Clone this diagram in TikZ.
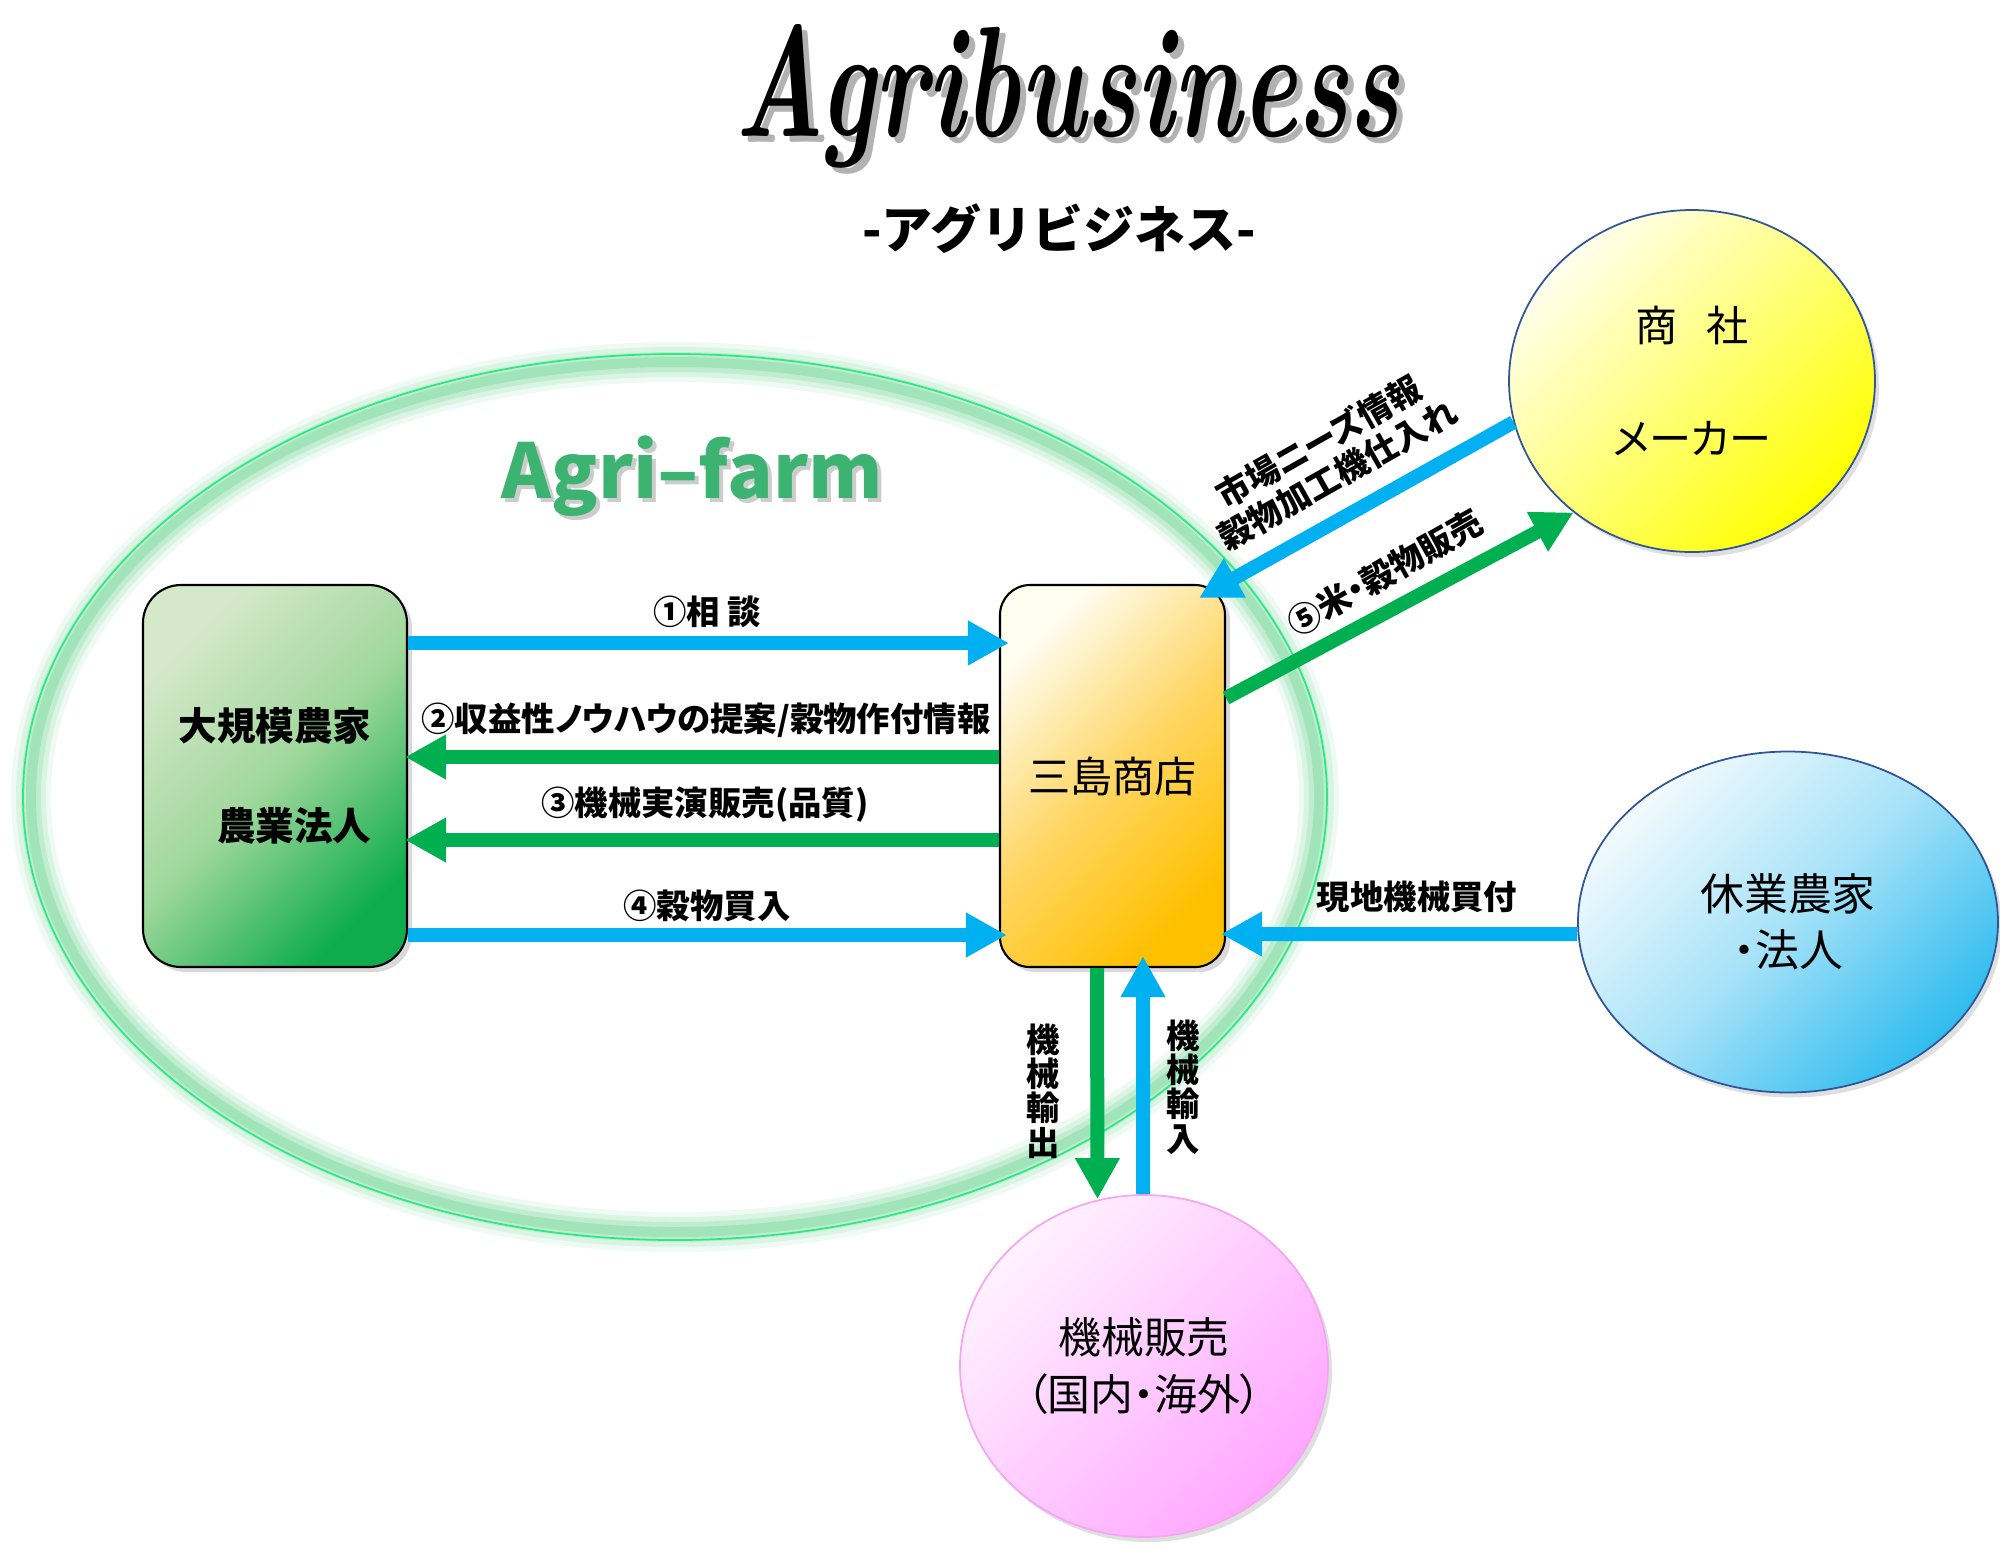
\documentclass[tikz,border=0pt]{standalone}
\usepackage{fontspec}
\usepackage{tikz}
\usetikzlibrary{arrows.meta,shapes,shadows,positioning,calc}
\newfontfamily\jp[RawFeature=+palt]{Noto Sans CJK JP}
\newfontfamily\jpwide{Noto Sans CJK JP}
\definecolor{arrblue}{HTML}{00B0F0}
\definecolor{arrgreen}{HTML}{00B050}
\definecolor{farmtext}{HTML}{3CB371}
\definecolor{farmglow}{HTML}{5CCF86}
\definecolor{rimgreen}{HTML}{2EE884}
\definecolor{rim}{HTML}{2F5597}
\tikzstyle{box}=[rectangle, draw=black, line width=0.6pt, minimum height=3.82cm, drop shadow={opacity=0.3, shadow xshift=0.05cm, shadow yshift=-0.05cm}]
\tikzstyle{farmbox}=[box, rounded corners=0.38cm, top color={rgb,255:red,214;green,232;blue,202}, bottom color={rgb,255:red,14;green,172;blue,76}, middle color={rgb,255:red,160;green,216;blue,156}, shading angle=45]
\tikzstyle{shopbox}=[box, rounded corners=0.3cm, top color={rgb,255:red,255;green,253;blue,240}, bottom color={rgb,255:red,255;green,192;blue,0}, middle color={rgb,255:red,255;green,214;blue,100}, shading angle=45]
\tikzstyle{actor}=[ellipse, line width=0.5pt, inner sep=0pt, align=center, drop shadow={opacity=0.25, shadow xshift=0.04cm, shadow yshift=-0.05cm}]
\tikzstyle{lab}=[font=\jp\bfseries\fontsize{9.5}{10.8}\selectfont, inner sep=1pt, align=center]
\tikzstyle{vlab}=[lab, font=\jp\bfseries\fontsize{9.5}{9.8}\selectfont]
\tikzstyle{bluearrow}=[draw=arrblue, line width=0.14cm, -{Triangle[length=0.41cm,width=0.42cm]}]
\tikzstyle{greenarrow}=[draw=arrgreen, line width=0.14cm, -{Triangle[length=0.41cm,width=0.42cm]}]

\begin{document}
\begin{tikzpicture}
  \useasboundingbox (0,0) rectangle (20,-15.46);
  % Agri-farm area
  \foreach \w/\o in {0.40/0.10, 0.30/0.15, 0.20/0.2, 0.10/0.3}
    \draw[farmglow, line width=\w cm, opacity=\o] (6.75,-7.97) ellipse (6.44cm and 4.35cm);
  \draw[rimgreen, line width=0.5pt] (6.75,-7.97) ellipse (6.52cm and 4.43cm);
  % titles
  \node (titleshade) at (10.73,-1.42) [anchor=base, opacity=0.3] {\resizebox{6.65cm}{1.12cm}{\bfseries\itshape Agribusiness}};
  \node (title) at (10.67,-1.36) [anchor=base] {\resizebox{6.65cm}{1.12cm}{\bfseries\itshape Agribusiness}};
  \node (subtitle) at (10.59,-2.29) [font=\jpwide\bfseries\fontsize{14.5}{17}\selectfont] {-アグリビジネス-};
  \node (farmshade) at (6.96,-5.02) [anchor=base, opacity=0.2, font=\jp\bfseries\fontsize{21.5}{26}\selectfont] {Agri–farm};
  \node (farmtitle) at (6.92,-4.98) [anchor=base, text=farmtext, font=\jp\bfseries\fontsize{21.5}{26}\selectfont] {Agri–farm};
  % actors
  \node (farm) at (2.75,-7.76) [farmbox, minimum width=2.64cm, align=right, font=\jp\bfseries\fontsize{11}{28.5}\selectfont] {大規模農家\\農業法人};
  \node (shop) at (11.125,-7.76) [shopbox, minimum width=2.25cm, font=\jp\fontsize{12}{14}\selectfont] {三島商店};
  \node (maker) at (16.92,-3.81) [actor, draw=rim, top color={rgb,255:red,255;green,255;blue,238}, bottom color=yellow, middle color={rgb,255:red,255;green,255;blue,120}, shading angle=45, minimum width=3.66cm, minimum height=3.42cm, font=\jp\fontsize{12}{32}\selectfont] {商\hspace{0.7em}社\\メーカー};
  \node (rest) at (17.88,-9.22) [actor, draw=rim, top color={rgb,255:red,242;green,250;blue,254}, bottom color={rgb,255:red,48;green,188;blue,238}, middle color={rgb,255:red,166;green,226;blue,248}, shading angle=45, minimum width=4.2cm, minimum height=3.41cm, font=\jp\fontsize{12.5}{16}\selectfont] {休業農家\\・法人};
  \node (sales) at (11.44,-13.66) [actor, draw={rgb,255:red,244;green,166;blue,244}, top color={rgb,255:red,255;green,242;blue,255}, bottom color={rgb,255:red,255;green,166;blue,255}, middle color={rgb,255:red,255;green,204;blue,255}, shading angle=45, minimum width=3.68cm, minimum height=3.42cm, font=\jp\fontsize{12.2}{16}\selectfont] {機械販売\\（国内・海外）};
  % flows
  \draw[bluearrow] ([yshift=1.33cm]farm.east) -- ([xshift=0.1cm,yshift=1.33cm]shop.west);
  \draw[greenarrow] ([yshift=0.19cm]shop.west) -- ([xshift=-0.03cm,yshift=0.19cm]farm.east);
  \draw[greenarrow] ([yshift=-0.64cm]shop.west) -- ([xshift=-0.03cm,yshift=-0.64cm]farm.east);
  \draw[bluearrow] ([yshift=-1.59cm]farm.east) -- ([xshift=0.08cm,yshift=-1.59cm]shop.west);
  \draw[greenarrow] ([yshift=0.78cm]shop.east) -- (maker.228);
  \draw[bluearrow] (maker.193) -- ([xshift=-0.27cm,yshift=-0.14cm]shop.north east);
  \draw[bluearrow] ([yshift=-0.12cm]rest.west) -- ([xshift=-0.05cm,yshift=-1.58cm]shop.east);
  \draw[greenarrow] ([xshift=-0.155cm]shop.south) -- ([xshift=-0.465cm,yshift=-0.05cm]sales.north);
  \draw[bluearrow] ([xshift=-0.01cm]sales.north) -- ([xshift=0.305cm,yshift=0.12cm]shop.south);
  % labels
  \node (talk) at (7.07,-6.12) [lab] {①相 談};
  \node (advice) at (7.06,-7.20) [lab] {②収益性ノウハウの提案/穀物作付情報};
  \node (demo) at (7.05,-8.05) [lab] {③機械実演販売(品質)};
  \node (buy) at (7.07,-9.06) [lab] {④穀物買入};
  \node (sell) at (13.85,-5.73) [lab, rotate=29.5] {⑤米・穀物販売};
  \node (needs) at (13.28,-4.58) [lab, rotate=29.5] {市場ニーズ情報\\穀物加工機仕入れ};
  \node (local) at (14.17,-8.97) [lab] {現地機械買付};
  \node (export) at (10.43,-10.91) [vlab] {機\\械\\輸\\出};
  \node (import) at (11.83,-10.87) [vlab] {機\\械\\輸\\入};
\end{tikzpicture}
\end{document}
